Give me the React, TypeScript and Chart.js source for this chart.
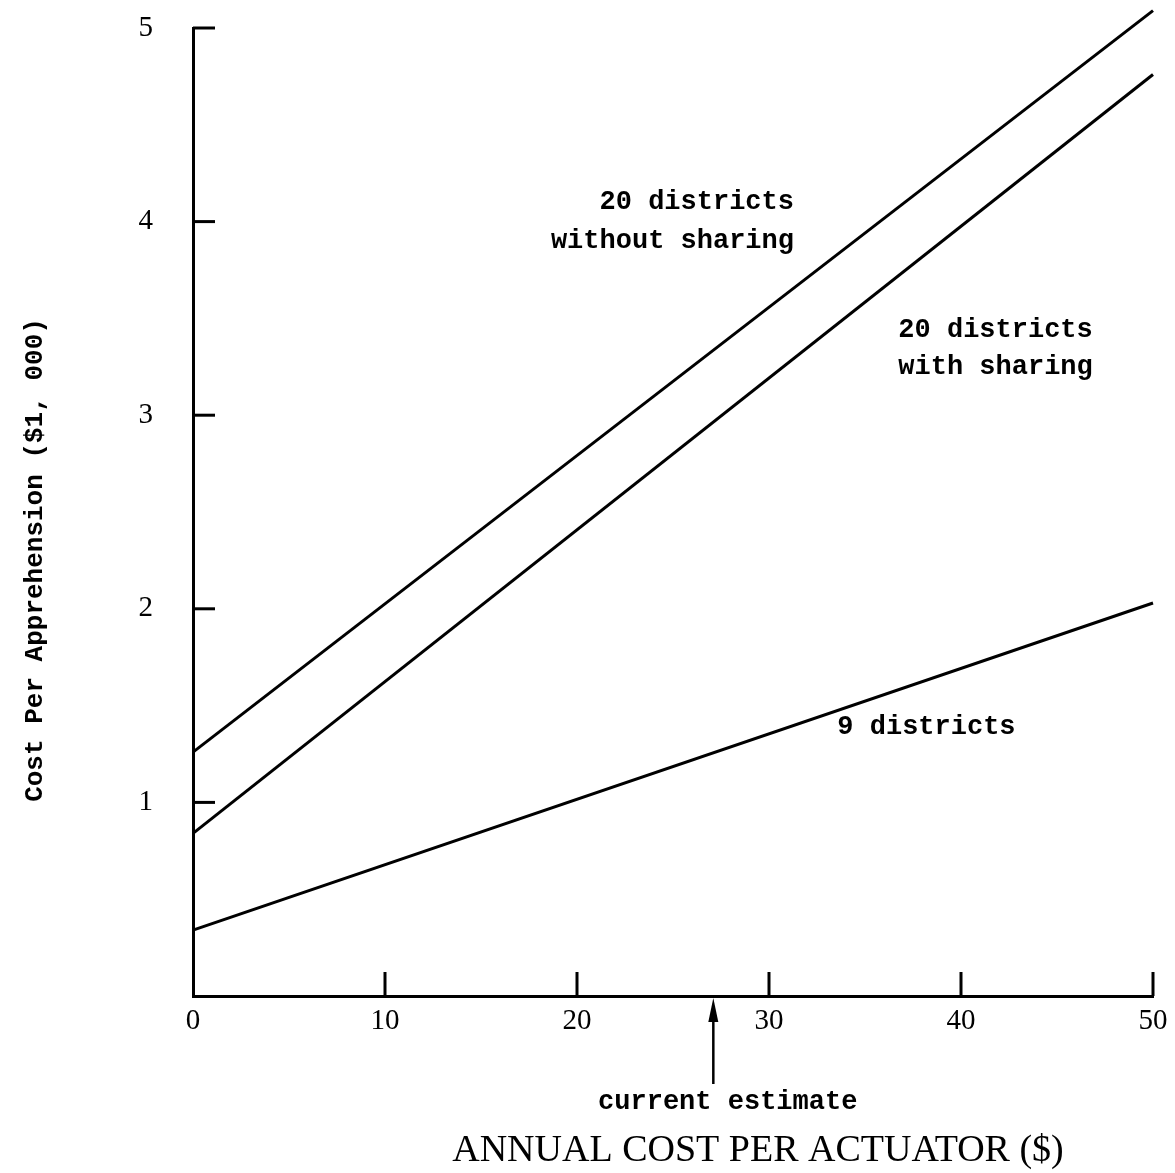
import React, { useEffect, useRef } from "react";
import { Chart, registerables } from "chart.js";

Chart.register(...registerables);

// ---- data ----
const xValues = [0, 50];
const withoutSharing = [1.26, 5.09];
const withSharing = [0.84, 4.76];
const nineDistricts = [0.34, 2.03];
const xTickValues = [0, 10, 20, 30, 40, 50];
const yTickValues = [1, 2, 3, 4, 5];
const currentEstimate = 27.1;

const xTitle = "ANNUAL COST PER ACTUATOR ($)";
const yTitle = "Cost Per Apprehension ($1, 000)";

const W = 1175;
const H = 1173;

const toPoints = (ys: number[]) => xValues.map((x, i) => ({ x, y: ys[i] }));

const MONO = "'Liberation Mono'";

const annotationPlugin = {
  id: "annotations",
  afterDraw(chart: any) {
    const { ctx, chartArea, scales } = chart;
    const xs = scales.x;
    const ys = scales.y;
    ctx.save();
    ctx.strokeStyle = "#000";
    ctx.fillStyle = "#000";
    ctx.lineWidth = 3;
    ctx.lineCap = "butt";
    // y tick marks (inward)
    yTickValues.forEach((v) => {
      const py = ys.getPixelForValue(v);
      ctx.beginPath();
      ctx.moveTo(chartArea.left, py);
      ctx.lineTo(chartArea.left + 22, py);
      ctx.stroke();
    });
    // x tick marks (upward)
    xTickValues.filter((v) => v !== 0).forEach((v) => {
      const px = xs.getPixelForValue(v);
      ctx.beginPath();
      ctx.moveTo(px, chartArea.bottom);
      ctx.lineTo(px, chartArea.bottom - 24);
      ctx.stroke();
    });

    // curve labels
    ctx.font = `bold 27px ${MONO}`;
    ctx.textBaseline = "middle";
    ctx.textAlign = "right";
    ctx.fillText("20 districts", xs.getPixelForValue(31.3), ys.getPixelForValue(4.1));
    ctx.fillText("without sharing", xs.getPixelForValue(31.3), ys.getPixelForValue(3.9));
    ctx.textAlign = "center";
    ctx.fillText("20 districts", xs.getPixelForValue(41.8), ys.getPixelForValue(3.44));
    ctx.fillText("with sharing", xs.getPixelForValue(41.8), ys.getPixelForValue(3.25));
    ctx.fillText("9 districts", xs.getPixelForValue(38.2), ys.getPixelForValue(1.39));

    // current estimate arrow
    const ax = xs.getPixelForValue(currentEstimate);
    const tipY = chartArea.bottom + 2;
    ctx.lineWidth = 2.5;
    ctx.beginPath();
    ctx.moveTo(ax, tipY + 10);
    ctx.lineTo(ax, tipY + 86);
    ctx.stroke();
    ctx.beginPath();
    ctx.moveTo(ax, tipY);
    ctx.lineTo(ax - 5, tipY + 24);
    ctx.lineTo(ax + 5, tipY + 24);
    ctx.closePath();
    ctx.fill();
    ctx.fillText("current estimate", xs.getPixelForValue(27.85), chartArea.bottom + 106);

    // axis titles
    ctx.font = "38px 'Liberation Serif'";
    ctx.textAlign = "center";
    ctx.fillText(xTitle, 758, 1151);

    ctx.save();
    ctx.translate(35, 560);
    ctx.rotate(-Math.PI / 2);
    ctx.font = `bold 26px ${MONO}`;
    ctx.fillText(yTitle, 0, 0);
    ctx.restore();

    ctx.restore();
  },
};

export default function App() {
  const canvasRef = useRef<HTMLCanvasElement | null>(null);

  useEffect(() => {
    const canvas = canvasRef.current;
    if (!canvas) return;
    const lineDs = (label: string, ys: number[]) => ({
      label,
      data: toPoints(ys),
      borderColor: "#000",
      borderWidth: 3,
      pointRadius: 0,
      fill: false,
      tension: 0,
      clip: false as any,
    });
    const chart = new Chart(canvas, {
      type: "line",
      data: {
        datasets: [
          lineDs("20 districts without sharing", withoutSharing),
          lineDs("20 districts with sharing", withSharing),
          lineDs("9 districts", nineDistricts),
        ],
      },
      options: {
        responsive: false,
        animation: false,
        devicePixelRatio: 1,
        layout: { padding: { top: 28, right: 22, left: 0, bottom: 0 } },
        plugins: {
          legend: { display: false },
          tooltip: { enabled: false },
        },
        scales: {
          x: {
            type: "linear",
            min: 0,
            max: 50,
            afterBuildTicks: (s: any) => {
              s.ticks = xTickValues.map((v) => ({ value: v }));
            },
            afterFit: (s: any) => {
              s.height = 177;
            },
            grid: { display: false, drawTicks: true, tickLength: 8 },
            border: { display: true, color: "#000", width: 3 },
            ticks: {
              color: "#000",
              padding: 0,
              font: { family: "'Liberation Serif'", size: 29 },
              maxRotation: 0,
              autoSkip: false,
            },
          },
          y: {
            type: "linear",
            min: 0,
            max: 5,
            afterBuildTicks: (s: any) => {
              s.ticks = yTickValues.map((v) => ({ value: v }));
            },
            afterFit: (s: any) => {
              s.width = 193;
            },
            grid: { display: false, drawTicks: true, tickLength: 40 },
            border: { display: true, color: "#000", width: 3 },
            ticks: {
              color: "#000",
              padding: 0,
              font: { family: "'Liberation Serif'", size: 29 },
              autoSkip: false,
            },
          },
        },
      },
      plugins: [annotationPlugin],
    });
    return () => chart.destroy();
  }, []);

  return (
    <div style={{ position: "absolute", left: 0, top: 0, width: W, height: H, background: "#fff" }}>
      <canvas ref={canvasRef} width={W} height={H} style={{ width: W, height: H, display: "block" }} />
    </div>
  );
}
